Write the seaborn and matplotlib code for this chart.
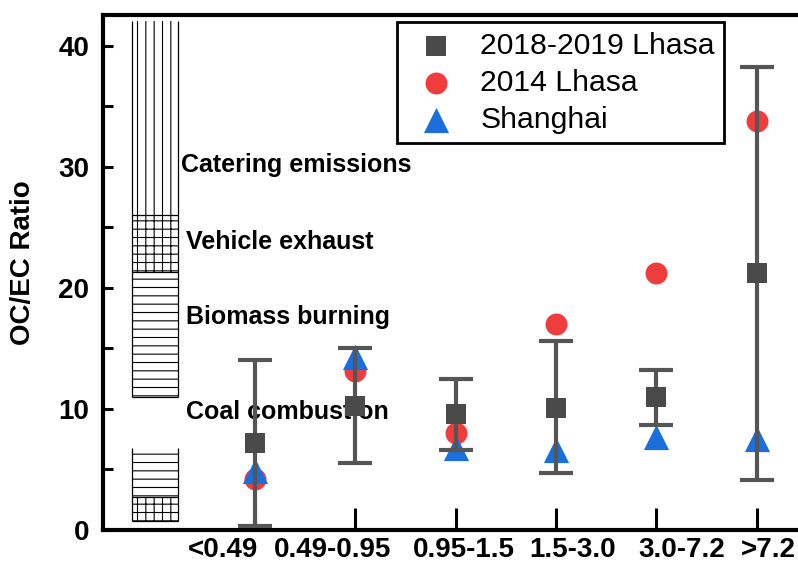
import matplotlib
matplotlib.use("Agg")
import matplotlib.pyplot as plt
import numpy as np
import pandas as pd
import seaborn as sns

# Particle size bins (µm) and OC/EC ratios
size_bins = ["<0.49", "0.49-0.95", "0.95-1.5", "1.5-3.0", "3.0-7.2", ">7.2"]
lhasa_1819 = [7.2, 10.2, 9.6, 10.1, 11.0, 21.2]
lhasa_1819_low = [0.3, 5.5, 6.6, 4.7, 8.7, 4.1]
lhasa_1819_high = [14.0, 15.0, 12.5, 15.6, 13.2, 38.2]
lhasa_2014 = [4.2, 13.1, 8.0, 17.0, 21.2, 33.8]
shanghai = [4.9, 14.3, 6.8, 6.6, 7.7, 7.5]

# Typical OC/EC ranges of emission sources
source_labels = ["Catering emissions", "Vehicle exhaust", "Biomass burning", "Coal combustion"]
source_label_y = [30.1, 23.8, 17.6, 9.7]
band_bottom = [26.0, 21.3, 11.0, 2.7, 0.7]
band_top = [42.0, 26.0, 21.3, 6.8, 2.7]
band_hatch = ["||", "++", "--", "--", "++"]

# x positions of the size-bin labels (they sit slightly apart from the ticks)
label_pos = [0.68, 1.77, 3.08, 4.17, 5.25, 6.12]

sns.set_theme(style="white")
plt.rcParams["font.family"] = ["Liberation Sans", "DejaVu Sans"]
plt.rcParams["text.color"] = "black"
plt.rcParams["axes.labelcolor"] = "black"
plt.rcParams["xtick.color"] = "black"
plt.rcParams["ytick.color"] = "black"
plt.rcParams["hatch.linewidth"] = 0.8
plt.rcParams["hatch.color"] = "black"

pos = np.arange(1, len(size_bins) + 1)
df = pd.DataFrame({
    "pos": pos,
    "bin": size_bins,
    "l1819": lhasa_1819,
    "low": lhasa_1819_low,
    "high": lhasa_1819_high,
    "l2014": lhasa_2014,
    "sh": shanghai,
})

fig = plt.figure(figsize=(7.98, 5.65), dpi=100)
ax = fig.add_axes([0.129, 0.062, 0.907, 0.911])

# Source range column: hatched bands, open at their tops
band_w = 0.46
for b, t, h in zip(band_bottom, band_top, band_hatch):
    ax.bar(0, t - b, bottom=b, width=band_w, color="white", edgecolor="black",
           linewidth=0, hatch=h, zorder=1)
    ax.vlines([-band_w / 2, band_w / 2], b, t, color="black", linewidth=0.9, zorder=1.5)
ax.hlines(band_bottom, -band_w / 2, band_w / 2, color="black", linewidth=0.9, zorder=1.5)
for name, y in zip(source_labels, source_label_y):
    x0 = 0.26 if name.startswith("Catering") else 0.31
    ax.text(x0, y, name, fontsize=18, fontweight="bold", color="black",
            ha="left", va="center", zorder=2)

red = "#ef3d3d"
blue = "#1b6fdc"
grey = "#4a4a4a"

sns.scatterplot(data=df, x="pos", y="l2014", marker="o", s=250, color=red,
                linewidth=0, ax=ax, zorder=3, label="2014 Lhasa")
sns.scatterplot(data=df, x="pos", y="sh", marker="^", s=330, color=blue,
                linewidth=0, ax=ax, zorder=4, label="Shanghai")
yerr = np.vstack([df["l1819"] - df["low"], df["high"] - df["l1819"]])
ax.errorbar(df["pos"], df["l1819"], yerr=yerr, fmt="none", ecolor="#555555",
            elinewidth=3, capsize=12.5, capthick=3, zorder=5)
sns.scatterplot(data=df, x="pos", y="l1819", marker="s", s=190, color=grey,
                linewidth=0, ax=ax, zorder=6, label="2018-2019 Lhasa")

ax.set_xlim(-0.515, 6.7)
ax.set_ylim(0, 42.5)

# Axes styling
for side in ["left", "bottom", "top", "right"]:
    ax.spines[side].set_linewidth(3)
    ax.spines[side].set_color("black")

ax.set_yticks([0, 10, 20, 30, 40])
ax.set_yticks([5, 15, 25, 35], minor=True)
ax.tick_params(axis="y", which="both", direction="in", length=7, width=2.2,
               color="black", left=True, pad=10)
for lab in ax.get_yticklabels():
    lab.set_fontsize(20)
    lab.set_fontweight("bold")
    lab.set_color("black")

ax.set_xticks(pos)
ax.set_xticklabels([])
ax.tick_params(axis="x", which="major", direction="in", length=16, width=2.2,
               color="black", bottom=True)
ax.set_xticks(label_pos, minor=True)
ax.set_xticklabels(size_bins, minor=True, fontsize=20, fontweight="bold", color="black")
ax.tick_params(axis="x", which="minor", length=0, pad=5)

ax.set_xlabel("")
ax.set_ylabel("OC/EC Ratio", fontsize=20, fontweight="bold", color="black")
ax.yaxis.set_label_coords(-0.093, 0.52)

handles, labels = ax.get_legend_handles_labels()
order = [labels.index(n) for n in ["2018-2019 Lhasa", "2014 Lhasa", "Shanghai"]]
leg = ax.legend([handles[i] for i in order], [labels[i] for i in order],
                loc="upper left", bbox_to_anchor=(0.406, 0.986), borderaxespad=0,
                fontsize=21.7, frameon=True, fancybox=False, framealpha=1,
                handletextpad=0.47, labelspacing=0.3, borderpad=0.3, handlelength=2.0)
leg.get_frame().set_edgecolor("black")
leg.get_frame().set_linewidth(2)
for t in leg.get_texts():
    t.set_color("black")

fig.savefig("out.png", dpi=100)
